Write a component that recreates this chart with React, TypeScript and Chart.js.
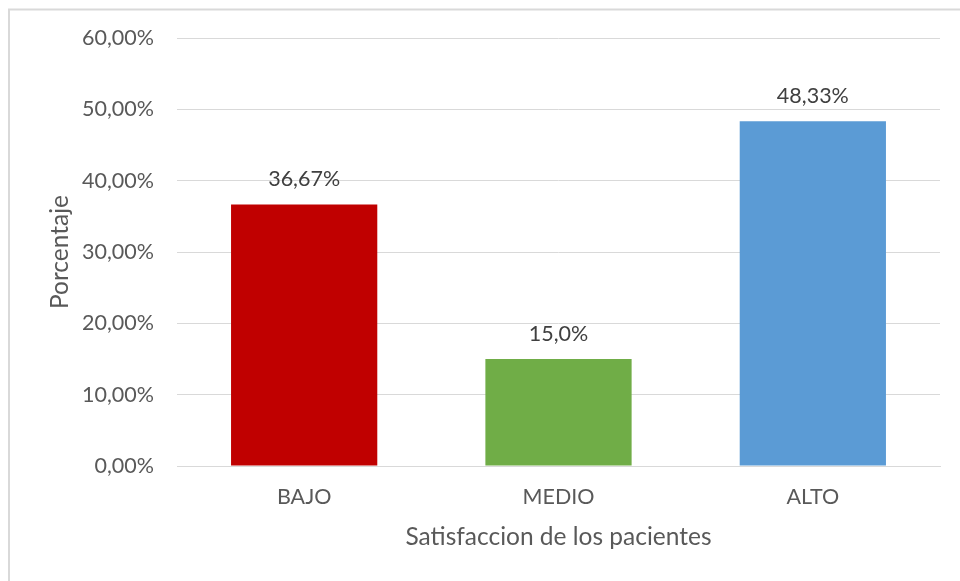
import React, { useEffect, useRef } from "react";
import { Chart, registerables } from "chart.js";

Chart.register(...registerables);

const categories = ["BAJO", "MEDIO", "ALTO"];
const values = [36.67, 15.0, 48.33];
const valueLabels = ["36,67%", "15,0%", "48,33%"];
const barColors = ["#C00000", "#70AD47", "#5B9BD5"];
const yTicks = [0, 10, 20, 30, 40, 50, 60];

const FONT = "Lato, 'Open Sans', sans-serif";

const framePlugin = {
  id: "frame",
  beforeDraw(chart: any) {
    const ctx = chart.ctx;
    ctx.save();
    ctx.fillStyle = "#ffffff";
    ctx.fillRect(0, 0, chart.width, chart.height);
    ctx.strokeStyle = "#D9D9D9";
    ctx.lineWidth = 2;
    ctx.beginPath();
    ctx.moveTo(9, chart.height + 5);
    ctx.lineTo(9, 9.5);
    ctx.lineTo(chart.width + 5, 9.5);
    ctx.stroke();
    ctx.restore();
  },
};

const labelPlugin = {
  id: "valueLabels",
  afterDatasetsDraw(chart: any) {
    const ctx = chart.ctx;
    const meta = chart.getDatasetMeta(0);
    ctx.save();
    ctx.font = `21.5px ${FONT}`;
    ctx.fillStyle = "#404040";
    ctx.textAlign = "center";
    ctx.textBaseline = "middle";
    meta.data.forEach((bar: any, i: number) => {
      ctx.fillText(valueLabels[i], bar.x, bar.y - 25);
    });
    ctx.restore();
  },
};

export default function App() {
  const ref = useRef<HTMLCanvasElement>(null);
  useEffect(() => {
    if (!ref.current) return;
    const chart = new Chart(ref.current, {
      type: "bar",
      data: {
        labels: categories,
        datasets: [
          {
            data: values,
            backgroundColor: barColors,
            barPercentage: 0.575,
            categoryPercentage: 1,
          },
        ],
      },
      options: {
        animation: false,
        responsive: false,
        maintainAspectRatio: false,
        layout: { padding: { left: 0, top: 38, right: 20, bottom: 0 } },
        plugins: { legend: { display: false }, tooltip: { enabled: false } },
        scales: {
          x: {
            grid: { display: false, drawTicks: false },
            border: { display: true, color: "#D9D9D9", width: 1 },
            ticks: { color: "#595959", font: { family: FONT, size: 21.5 }, padding: 18 },
            title: {
              display: true,
              text: "Satisfaccion de los pacientes",
              color: "#595959",
              font: { family: FONT, size: 24.5 },
              padding: { top: 0, bottom: 29 },
            },
            afterFit(scale: any) {
              scale.height = 115;
            },
          },
          y: {
            min: 0,
            max: 60,
            afterBuildTicks(scale: any) {
              scale.ticks = yTicks.map((v) => ({ value: v }));
            },
            grid: { color: "#D9D9D9", lineWidth: 1, drawTicks: false },
            border: { display: false },
            ticks: {
              color: "#595959",
              font: { family: FONT, size: 21.5 },
              padding: 23,
              callback: (v: any) => Number(v).toFixed(2).replace(".", ",") + "%",
            },
            title: {
              display: true,
              text: "Porcentaje",
              color: "#595959",
              font: { family: FONT, size: 24.5 },
              padding: { top: 45, bottom: 0 },
            },
            afterFit(scale: any) {
              scale.width = 177;
            },
          },
        },
      },
      plugins: [framePlugin, labelPlugin],
    });
    return () => chart.destroy();
  }, []);
  return (
    <div style={{ position: "fixed", left: 0, top: 0, width: 960, height: 581 }}>
      <canvas ref={ref} width={960} height={581} style={{ display: "block" }} />
    </div>
  );
}
